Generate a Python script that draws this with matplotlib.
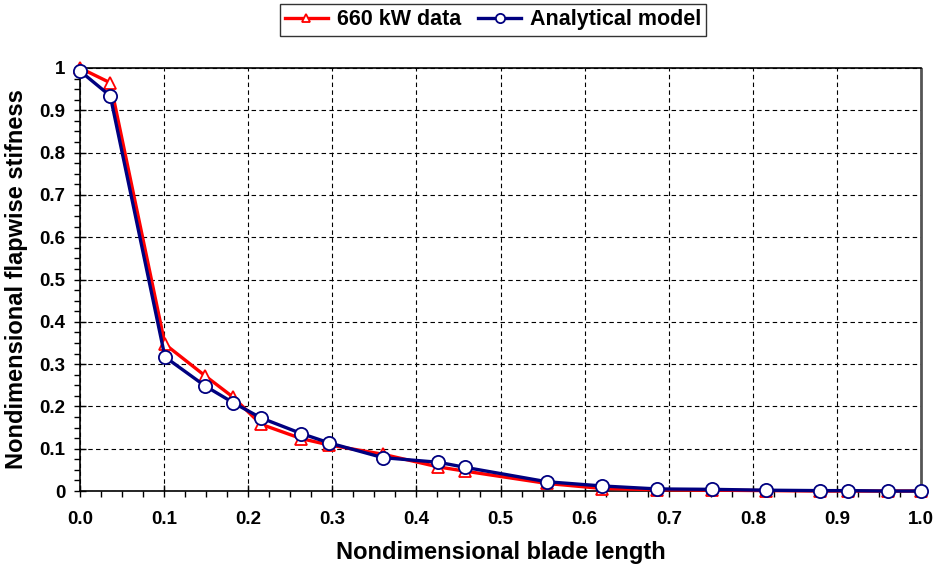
import matplotlib
matplotlib.use("Agg")
import matplotlib.pyplot as plt
from matplotlib.ticker import MultipleLocator, FuncFormatter

plt.rcParams['font.family'] = ['Liberation Sans', 'DejaVu Sans']
plt.rcParams['font.weight'] = 'bold'

# Spanwise stations along the blade
blade_length = [0.0, 0.036, 0.101, 0.149, 0.182, 0.215, 0.263, 0.296, 0.360, 0.426,
                0.458, 0.555, 0.621, 0.686, 0.751, 0.816, 0.880, 0.913, 0.961, 1.0]
# Measured stiffness of the 660 kW blade
stiffness_data = [1.0, 0.965, 0.347, 0.272, 0.222, 0.158, 0.124, 0.109, 0.087, 0.057,
                  0.047, 0.018, 0.006, 0.003, 0.002, 0.001, 0.0, 0.0, 0.0, 0.0]
# Analytical model prediction
stiffness_model = [0.993, 0.934, 0.317, 0.248, 0.209, 0.173, 0.136, 0.114, 0.079, 0.068,
                   0.056, 0.022, 0.012, 0.005, 0.004, 0.002, 0.001, 0.001, 0.0, 0.0]

x_ticks = [i / 10 for i in range(11)]
y_ticks = [i / 10 for i in range(11)]

fig = plt.figure(figsize=(9.39, 5.69), dpi=100)
ax = fig.add_axes([0.0852, 0.137, 0.981 - 0.0852, 0.8805 - 0.137])

ax.plot(blade_length, stiffness_data, color='#FF0000', lw=2.4, marker='^',
        markersize=9, markerfacecolor='white', markeredgecolor='#FF0000',
        markeredgewidth=1.3, clip_on=False, zorder=3, label='660 kW data')
ax.plot(blade_length, stiffness_model, color='#000080', lw=2.4, marker='o',
        markersize=9.5, markerfacecolor='white', markeredgecolor='#000080',
        markeredgewidth=1.3, clip_on=False, zorder=4, label='Analytical model')

ax.set_xlim(0, 1)
ax.set_ylim(0, 1)
ax.set_xticks(x_ticks)
ax.set_yticks(y_ticks)
ax.xaxis.set_minor_locator(MultipleLocator(0.025))
ax.yaxis.set_minor_locator(MultipleLocator(0.025))
ax.xaxis.set_major_formatter(FuncFormatter(lambda v, p: f"{v:.1f}"))
ax.yaxis.set_major_formatter(FuncFormatter(lambda v, p: f"{v:g}"))

ax.tick_params(which='major', direction='inout', length=9, width=1.0,
               labelsize=13.5)
ax.tick_params(axis='x', which='major', pad=10)
ax.tick_params(axis='y', which='major', pad=6)
ax.tick_params(which='minor', direction='out', length=4, width=1.0)
for lbl in ax.get_xticklabels() + ax.get_yticklabels():
    lbl.set_fontweight('bold')

ax.grid(True, which='major', color='black', linestyle=(0, (4, 3)), linewidth=0.8)
ax.set_axisbelow(True)

for side in ['left', 'bottom', 'top']:
    ax.spines[side].set_color('black')
    ax.spines[side].set_linewidth(1.2)
ax.spines['right'].set_color('#555555')
ax.spines['right'].set_linestyle((0, (2, 1)))
ax.spines['right'].set_linewidth(2.0)

ax.set_xlabel('Nondimensional blade length', fontsize=17, fontweight='bold', labelpad=9)
ax.set_ylabel('Nondimensional flapwise stifness', fontsize=17, fontweight='bold', labelpad=8)

leg = fig.legend(loc='center', bbox_to_anchor=(0.525, 0.965), ncol=2,
                 frameon=True, fancybox=False, edgecolor='black',
                 prop={'weight': 'bold', 'size': 15.5}, handlelength=2.0,
                 handletextpad=0.4, columnspacing=0.8, borderpad=0.25,
                 markerscale=0.7)
leg.get_frame().set_linewidth(1.0)

fig.savefig('out.png', dpi=100)
